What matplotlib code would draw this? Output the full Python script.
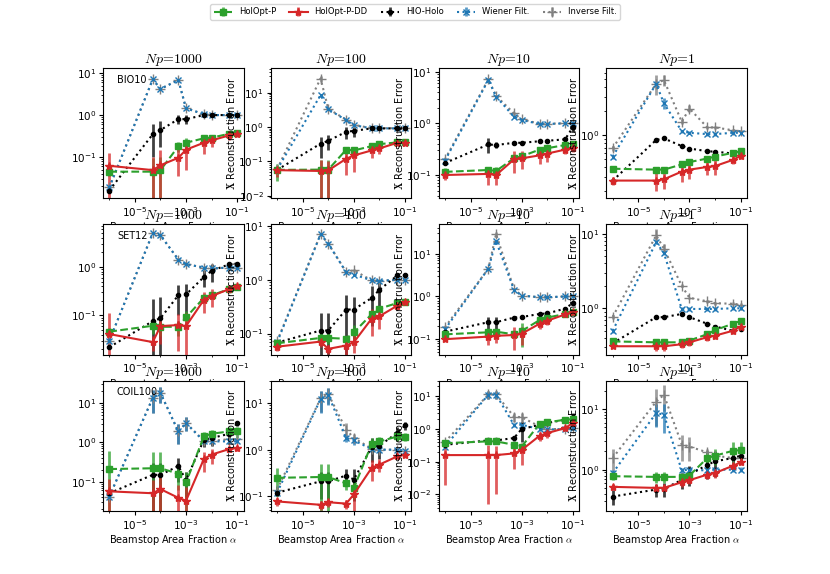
import matplotlib
matplotlib.use('Agg')
import matplotlib.pyplot as plt
from matplotlib.ticker import LogLocator, NullFormatter
from matplotlib.colors import to_rgba

plt.rcParams['mathtext.fontset'] = 'cm'
plt.rcParams['font.family'] = 'DejaVu Sans'

alphas = [1e-6, 5e-5, 1e-4, 5e-4, 1e-3, 5e-3, 1e-2, 5e-2, 1e-1]
np_values = [1000, 100, 10, 1]
datasets = ['BIO10', 'SET12', 'COIL100']
methods = ['HolOpt-P', 'HolOpt-P-DD', 'HIO-Holo', 'Wiener Filt.', 'Inverse Filt.']

# ---------------- BIO10 (rows: Np = 1000, 100, 10, 1)
bio10_holopt = [[0.045, 0.045, 0.049, 0.18, 0.22, 0.28, 0.29, 0.36, 0.38],
                [0.057, 0.058, 0.058, 0.22, 0.21, 0.28, 0.32, 0.36, 0.36],
                [0.115, 0.125, 0.12, 0.21, 0.23, 0.31, 0.33, 0.38, 0.40],
                [0.38, 0.37, 0.37, 0.43, 0.46, 0.51, 0.54, 0.60, 0.63]]
bio10_holopt_err = [[0.01, 0.05, 0.05, 0.05, 0.06, 0.05, 0.05, 0.04, 0.04],
                    [0.03, 0.052, 0.055, 0.05, 0.05, 0.04, 0.04, 0.03, 0.03],
                    [0.02, 0.02, 0.02, 0.03, 0.03, 0.03, 0.03, 0.03, 0.03],
                    [0.03, 0.03, 0.03, 0.03, 0.03, 0.03, 0.03, 0.03, 0.03]]
bio10_holoptdd = [[0.062, 0.049, 0.064, 0.096, 0.15, 0.22, 0.25, 0.33, 0.36],
                  [0.056, 0.053, 0.055, 0.12, 0.15, 0.21, 0.24, 0.35, 0.35],
                  [0.10, 0.105, 0.10, 0.20, 0.21, 0.24, 0.26, 0.31, 0.33],
                  [0.27, 0.27, 0.28, 0.35, 0.37, 0.40, 0.41, 0.49, 0.55]]
bio10_holoptdd_err = [[0.061, 0.05, 0.084, 0.06, 0.1, 0.1, 0.08, 0.08, 0.05],
                      [0.02, 0.057, 0.05, 0.08, 0.1, 0.08, 0.08, 0.05, 0.05],
                      [0.02, 0.04, 0.035, 0.09, 0.08, 0.08, 0.08, 0.06, 0.05],
                      [0.03, 0.07, 0.07, 0.09, 0.09, 0.08, 0.09, 0.06, 0.04]]
bio10_hio = [[0.016, 0.35, 0.44, 0.8, 0.8, 1.0, 1.0, 1.0, 1.0],
             [0.057, 0.33, 0.40, 0.73, 0.78, 0.92, 0.92, 0.92, 0.92],
             [0.17, 0.39, 0.38, 0.42, 0.42, 0.45, 0.46, 0.49, 0.84],
             [0.27, 0.87, 0.91, 0.73, 0.68, 0.63, 0.62, 0.59, 0.60]]
bio10_hio_err = [[0.002, 0.25, 0.27, 0.2, 0.2, 0.05, 0.05, 0.05, 0.05],
                 [0.005, 0.2, 0.18, 0.28, 0.25, 0.05, 0.05, 0.05, 0.05],
                 [0.01, 0.12, 0.05, 0.03, 0.03, 0.03, 0.03, 0.03, 0.15],
                 [0.02, 0.03, 0.03, 0.03, 0.03, 0.03, 0.03, 0.03, 0.03]]
bio10_wiener = [[0.019, 7.1, 4.2, 6.8, 1.45, 1.05, 1.0, 1.0, 1.0],
                [0.058, 8.6, 3.3, 1.6, 1.14, 0.92, 0.92, 0.92, 0.92],
                [0.19, 6.9, 3.3, 1.34, 1.16, 0.97, 0.97, 1.0, 1.0],
                [0.54, 4.4, 2.5, 1.12, 1.07, 1.03, 1.03, 1.07, 1.07]]
bio10_wiener_err = [[0.002, 0.5, 0.3, 0.5, 0.1, 0.05, 0.05, 0.05, 0.05],
                    [0.005, 0.6, 0.2, 0.1, 0.05, 0.05, 0.05, 0.05, 0.05],
                    [0.01, 0.6, 0.2, 0.1, 0.05, 0.05, 0.05, 0.05, 0.05],
                    [0.03, 0.4, 0.4, 0.05, 0.05, 0.05, 0.05, 0.05, 0.05]]
bio10_inverse = [[0.019, 7.1, 4.2, 6.8, 1.45, 1.05, 1.0, 1.0, 1.0],
                 [0.06, 26, 3.4, 1.65, 1.16, 0.93, 0.93, 0.93, 0.93],
                 [0.2, 7.1, 3.4, 1.56, 1.2, 0.98, 0.98, 1.0, 1.0],
                 [0.69, 4.4, 4.9, 1.47, 2.15, 1.25, 1.25, 1.15, 1.12]]
bio10_inverse_err = [[0.002, 0.5, 0.3, 0.5, 0.1, 0.05, 0.05, 0.05, 0.05],
                     [0.005, 5, 0.2, 0.1, 0.05, 0.05, 0.05, 0.05, 0.05],
                     [0.01, 0.6, 0.2, 0.1, 0.05, 0.05, 0.05, 0.05, 0.05],
                     [0.05, 1.2, 0.8, 0.1, 0.2, 0.05, 0.05, 0.05, 0.05]]

# ---------------- SET12
set12_holopt = [[0.046, 0.061, 0.058, 0.058, 0.091, 0.23, 0.26, 0.35, 0.38],
                [0.066, 0.083, 0.083, 0.08, 0.105, 0.23, 0.29, 0.37, 0.38],
                [0.13, 0.145, 0.15, 0.13, 0.155, 0.28, 0.32, 0.39, 0.43],
                [0.36, 0.35, 0.35, 0.35, 0.37, 0.45, 0.51, 0.62, 0.68]]
set12_holopt_err = [[0.01, 0.02, 0.02, 0.02, 0.03, 0.04, 0.04, 0.04, 0.04],
                    [0.01, 0.02, 0.02, 0.01, 0.04, 0.04, 0.04, 0.03, 0.03],
                    [0.01, 0.02, 0.02, 0.02, 0.09, 0.03, 0.03, 0.03, 0.03],
                    [0.02, 0.02, 0.02, 0.02, 0.02, 0.02, 0.02, 0.02, 0.02]]
set12_holoptdd = [[0.041, 0.028, 0.06, 0.063, 0.06, 0.21, 0.25, 0.35, 0.40],
                  [0.057, 0.071, 0.052, 0.06, 0.069, 0.19, 0.21, 0.33, 0.38],
                  [0.10, 0.115, 0.12, 0.125, 0.134, 0.23, 0.27, 0.38, 0.43],
                  [0.31, 0.31, 0.31, 0.33, 0.35, 0.41, 0.43, 0.50, 0.57]]
set12_holoptdd_err = [[0.072, 0.01, 0.035, 0.045, 0.05, 0.1, 0.1, 0.06, 0.05],
                      [0.01, 0.015, 0.01, 0.02, 0.025, 0.1, 0.09, 0.05, 0.04],
                      [0.01, 0.04, 0.04, 0.07, 0.06, 0.06, 0.05, 0.03, 0.03],
                      [0.02, 0.04, 0.04, 0.04, 0.04, 0.04, 0.04, 0.03, 0.03]]
set12_hio = [[0.022, 0.076, 0.087, 0.26, 0.27, 0.62, 0.83, 1.14, 1.17],
             [0.068, 0.114, 0.114, 0.28, 0.28, 0.46, 0.65, 1.2, 1.2],
             [0.15, 0.25, 0.25, 0.32, 0.33, 0.39, 0.40, 0.52, 0.70],
             [0.34, 0.76, 0.76, 0.84, 0.76, 0.62, 0.57, 0.50, 0.53]]
set12_hio_err = [[0.002, 0.14, 0.15, 0.16, 0.17, 0.23, 0.34, 0.1, 0.1],
                 [0.005, 0.13, 0.13, 0.25, 0.2, 0.32, 0.32, 0.1, 0.1],
                 [0.01, 0.08, 0.08, 0.02, 0.02, 0.02, 0.02, 0.03, 0.03],
                 [0.02, 0.02, 0.02, 0.02, 0.02, 0.02, 0.02, 0.02, 0.02]]
set12_wiener = [[0.030, 5.0, 4.5, 1.42, 1.14, 0.97, 0.93, 0.97, 0.97],
                [0.069, 7.0, 4.7, 1.38, 1.25, 0.97, 0.95, 1.0, 1.0],
                [0.17, 4.5, 19.8, 1.43, 1.05, 0.96, 0.96, 1.0, 1.0],
                [0.50, 7.7, 5.5, 0.98, 0.98, 0.98, 0.98, 1.0, 1.0]]
set12_wiener_err = [[0.005, 0.3, 0.3, 0.1, 0.05, 0.05, 0.05, 0.05, 0.05],
                    [0.005, 0.4, 0.3, 0.1, 0.05, 0.05, 0.05, 0.05, 0.05],
                    [0.01, 0.3, 1.0, 0.1, 0.05, 0.05, 0.05, 0.05, 0.05],
                    [0.03, 0.5, 0.4, 0.05, 0.05, 0.05, 0.05, 0.05, 0.05]]
set12_inverse = [[0.030, 5.0, 4.5, 1.42, 1.14, 0.97, 0.93, 0.97, 0.97],
                 [0.072, 7.0, 4.7, 1.4, 1.5, 0.97, 0.95, 1.0, 1.0],
                 [0.19, 4.5, 29, 1.5, 1.05, 0.96, 0.96, 1.0, 1.0],
                 [0.77, 9.5, 6.3, 2.0, 1.38, 1.24, 1.17, 1.15, 1.12]]
set12_inverse_err = [[0.005, 0.3, 0.3, 0.1, 0.05, 0.05, 0.05, 0.05, 0.05],
                     [0.005, 0.4, 0.3, 0.1, 0.1, 0.05, 0.05, 0.05, 0.05],
                     [0.01, 0.3, 4.0, 0.1, 0.05, 0.05, 0.05, 0.05, 0.05],
                     [0.05, 2.0, 1.0, 0.1, 0.05, 0.05, 0.05, 0.05, 0.05]]

# ---------------- COIL100
coil100_holopt = [[0.21, 0.22, 0.22, 0.16, 0.096, 1.42, 1.66, 1.9, 1.9],
                  [0.25, 0.26, 0.26, 0.19, 0.15, 1.34, 1.5, 1.92, 1.9],
                  [0.37, 0.42, 0.42, 0.33, 0.29, 1.45, 1.6, 1.93, 2.0],
                  [0.78, 0.76, 0.76, 0.76, 0.80, 1.56, 1.7, 2.05, 2.1]]
coil100_holopt_err = [[0.38, 0.35, 0.35, 0.1, 0.08, 0.4, 0.4, 0.5, 0.6],
                      [0.15, 0.24, 0.24, 0.05, 0.06, 0.4, 0.4, 0.4, 0.4],
                      [0.05, 0.08, 0.08, 0.05, 0.05, 0.2, 0.3, 0.3, 0.3],
                      [0.1, 0.15, 0.15, 0.1, 0.2, 0.5, 0.5, 0.8, 0.8]]
coil100_holoptdd = [[0.057, 0.051, 0.065, 0.039, 0.033, 0.38, 0.49, 0.68, 0.72],
                    [0.078, 0.066, 0.075, 0.07, 0.11, 0.41, 0.48, 0.72, 0.78],
                    [0.16, 0.16, 0.16, 0.18, 0.23, 0.62, 0.75, 1.07, 1.53],
                    [0.52, 0.50, 0.50, 0.62, 0.67, 0.83, 0.88, 1.16, 1.32]]
coil100_holoptdd_err = [[0.06, 0.06, 0.07, 0.045, 0.04, 0.2, 0.2, 0.1, 0.1],
                        [0.015, 0.015, 0.015, 0.015, 0.07, 0.2, 0.15, 0.08, 0.08],
                        [0.14, 0.155, 0.15, 0.12, 0.15, 0.2, 0.2, 0.2, 0.3],
                        [0.05, 0.06, 0.06, 0.1, 0.1, 0.12, 0.15, 0.12, 0.12]]
coil100_hio = [[0.051, 0.15, 0.15, 0.25, 0.11, 1.17, 1.29, 1.66, 3.1],
               [0.12, 0.21, 0.21, 0.28, 0.23, 1.14, 1.22, 2.3, 3.3],
               [0.33, 0.45, 0.45, 0.53, 1.0, 1.35, 1.53, 1.93, 2.4],
               [0.36, 0.47, 0.48, 0.68, 0.83, 1.2, 1.37, 1.56, 1.7]]
coil100_hio_err = [[0.01, 0.15, 0.15, 0.15, 0.07, 0.4, 0.5, 0.6, 0.5],
                   [0.02, 0.12, 0.12, 0.1, 0.15, 0.6, 0.6, 0.8, 0.6],
                   [0.05, 0.1, 0.1, 0.1, 0.6, 0.3, 0.3, 0.3, 0.8],
                   [0.1, 0.12, 0.12, 0.2, 0.3, 0.5, 0.6, 0.4, 0.3]]
coil100_wiener = [[0.042, 13.5, 18, 1.9, 3.1, 1.06, 1.06, 1.06, 1.06],
                  [0.12, 12.2, 15, 1.78, 1.58, 1.03, 1.0, 1.0, 0.95],
                  [0.29, 11.3, 11.3, 1.35, 1.35, 1.0, 0.97, 1.0, 1.07],
                  [0.88, 8.6, 8.1, 0.97, 1.0, 0.97, 1.0, 1.0, 1.0]]
coil100_wiener_err = [[0.01, 8, 8, 1, 1.2, 0.1, 0.1, 0.1, 0.1],
                      [0.02, 6, 6, 0.3, 0.3, 0.1, 0.1, 0.1, 0.1],
                      [0.03, 3, 3, 0.2, 0.2, 0.1, 0.1, 0.1, 0.1],
                      [0.1, 3.5, 4, 0.1, 0.1, 0.1, 0.1, 0.1, 0.1]]
coil100_inverse = [[0.042, 13.5, 18, 1.9, 3.1, 1.1, 1.1, 1.2, 1.2],
                   [0.14, 12.5, 15.5, 2.7, 1.78, 1.05, 1.0, 1.0, 0.95],
                   [0.4, 11.5, 11.5, 2.4, 2.3, 1.2, 1.0, 1.0, 1.1],
                   [1.56, 13.3, 17.2, 2.6, 2.4, 1.93, 1.7, 1.56, 1.56]]
coil100_inverse_err = [[0.01, 8, 8, 1, 1.2, 0.1, 0.1, 0.1, 0.1],
                       [0.03, 6, 6, 1, 0.4, 0.1, 0.1, 0.1, 0.1],
                       [0.05, 3, 3, 0.8, 0.8, 0.2, 0.1, 0.1, 0.1],
                       [0.6, 8, 8, 1.2, 1.0, 0.3, 0.3, 0.2, 0.2]]

means = {
    'BIO10': [bio10_holopt, bio10_holoptdd, bio10_hio, bio10_wiener, bio10_inverse],
    'SET12': [set12_holopt, set12_holoptdd, set12_hio, set12_wiener, set12_inverse],
    'COIL100': [coil100_holopt, coil100_holoptdd, coil100_hio, coil100_wiener, coil100_inverse],
}
errs = {
    'BIO10': [bio10_holopt_err, bio10_holoptdd_err, bio10_hio_err, bio10_wiener_err, bio10_inverse_err],
    'SET12': [set12_holopt_err, set12_holoptdd_err, set12_hio_err, set12_wiener_err, set12_inverse_err],
    'COIL100': [coil100_holopt_err, coil100_holoptdd_err, coil100_hio_err, coil100_wiener_err, coil100_inverse_err],
}

# y-limits (log10) per panel
ylims = [[(-1.98, 1.12), (-2.07, 1.72), (-1.45, 1.07), (-0.79, 0.84)],
         [(-1.81, 0.88), (-1.39, 1.03), (-1.36, 1.69), (-0.62, 1.125)],
         [(-1.74, 1.57), (-1.31, 1.48), (-2.5, 1.48), (-0.68, 1.47)]]

styles = [dict(color='#2ca02c', marker='s', ls='--', ms=5),
          dict(color='#d62728', marker='*', ls='-', ms=6),
          dict(color='black', marker='.', ls=':', ms=6),
          dict(color='#1f77b4', marker='x', ls=':', ms=5),
          dict(color='gray', marker='+', ls=':', ms=7)]

fig, axes = plt.subplots(3, 4, figsize=(8.3, 5.74), dpi=100)
plt.subplots_adjust(left=0.124, right=0.9, top=0.8815, bottom=0.11, wspace=0.193, hspace=0.2)

handles = [None] * len(methods)
for r, ds in enumerate(datasets):
    for c, npv in enumerate(np_values):
        ax = axes[r, c]
        ax.set_xscale('log')
        ax.set_yscale('log')
        # draw back to front so Wiener covers Inverse and HolOpt sits on top
        for m in [4, 3, 2, 0, 1]:
            st = styles[m]
            h = ax.errorbar(alphas, means[ds][m][c], yerr=errs[ds][m][c],
                            color=st['color'], marker=st['marker'], ls=st['ls'],
                            ms=st['ms'], lw=1.5, elinewidth=2,
                            ecolor=to_rgba(st['color'], 0.75), capsize=0,
                            label=methods[m])
            handles[m] = h
        ax.set_ylim(10 ** ylims[r][c][0], 10 ** ylims[r][c][1])
        ax.set_xlim(10 ** -6.25, 10 ** -0.75)
        ax.set_xticks([1e-5, 1e-3, 1e-1])
        ax.xaxis.set_minor_locator(LogLocator(base=10, subs=(1.0,), numticks=20))
        ax.xaxis.set_minor_formatter(NullFormatter())
        ax.tick_params(labelsize=7.5, length=3, pad=2)
        ax.tick_params(which='minor', length=1.5)
        ax.set_title(r'$Np\!=\!%d$' % npv, fontsize=10, pad=3)
        ax.set_xlabel(r'Beamstop Area Fraction $\alpha$', fontsize=7, labelpad=1)
        if c > 0:
            ax.set_ylabel(r'$\mathbf{X}$ Reconstruction Error', fontsize=7, labelpad=1)
        if c == 0:
            ax.text(0.1, 0.95, ds, transform=ax.transAxes, va='top', fontsize=7)

fig.legend(handles, methods, loc='upper center', ncol=5, fontsize=6,
           bbox_to_anchor=(0.5, 1.0), handlelength=2.2, columnspacing=1.6)

fig.savefig('out.png', dpi=100)
